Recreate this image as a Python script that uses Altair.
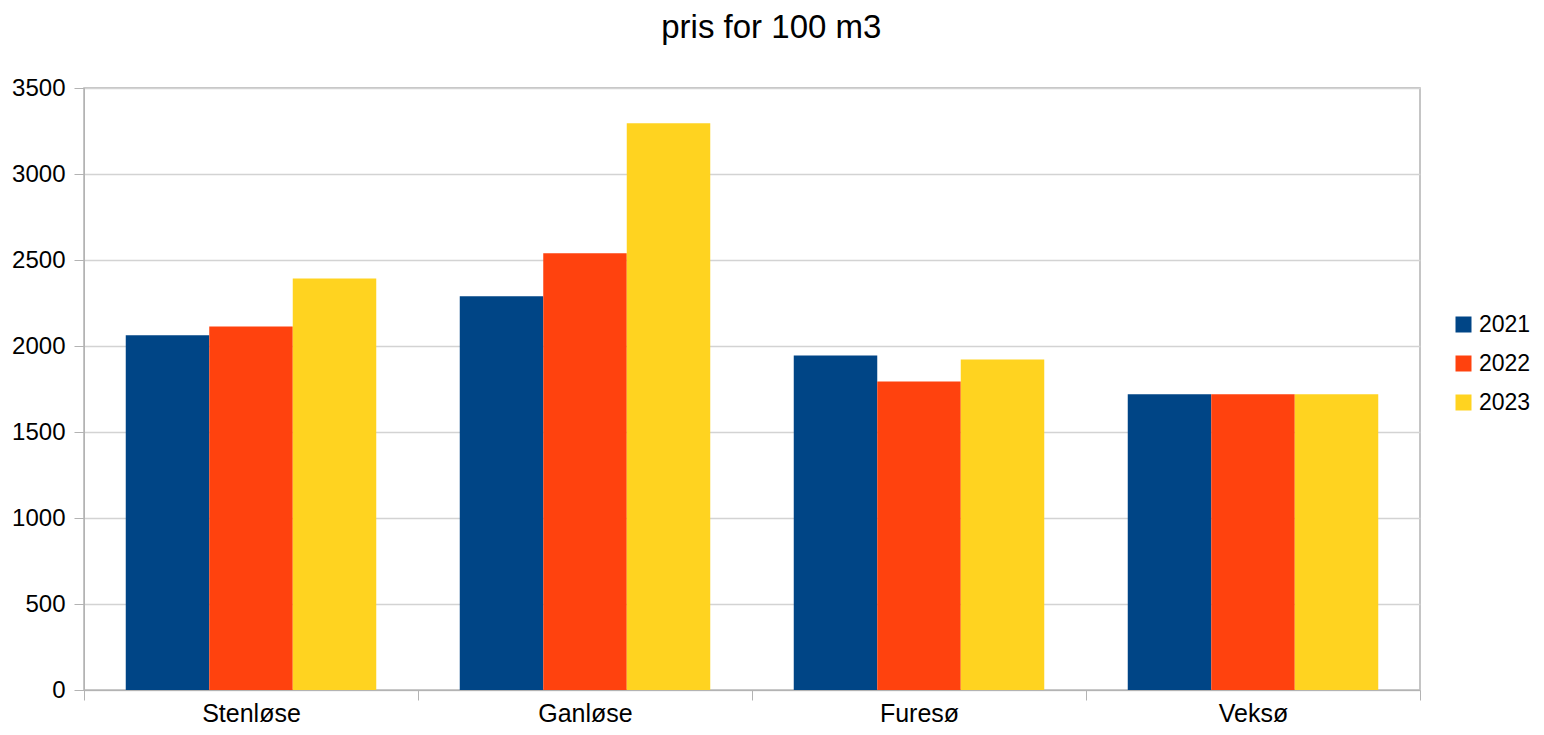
import altair as alt
import pandas as pd

categories = ["Stenløse", "Ganløse", "Furesø", "Veksø"]
years = ["2021", "2022", "2023"]
v2021 = [2062, 2289, 1945, 1719]
v2022 = [2114, 2539, 1794, 1719]
v2023 = [2393, 3295, 1922, 1719]
colors = ["#004586", "#ff420e", "#ffd320"]

rows = []
for yr, vals in zip(years, [v2021, v2022, v2023]):
    for c, v in zip(categories, vals):
        rows.append({"sted": c, "år": yr, "pris": v})
df = pd.DataFrame(rows)

FONT = "Liberation Sans"

chart = alt.Chart(df).mark_bar().encode(
    x=alt.X("sted:N", sort=categories, title=None,
            scale=alt.Scale(paddingInner=0, paddingOuter=0),
            axis=alt.Axis(labelAngle=0, tickBand="extent", tickSize=10,
                          labelPadding=1, labelFontSize=25, labelFont=FONT,
                          labelColor="#000000", domainColor="#b3b3b3",
                          tickColor="#b3b3b3", grid=False)),
    xOffset=alt.XOffset("år:N", sort=years,
                        scale=alt.Scale(paddingInner=0, paddingOuter=0.5)),
    y=alt.Y("pris:Q", title=None,
            scale=alt.Scale(domain=[0, 3500], nice=False),
            axis=alt.Axis(values=[0, 500, 1000, 1500, 2000, 2500, 3000, 3500],
                          format="d",
                          tickSize=10, labelPadding=9, labelFontSize=24,
                          labelFont=FONT, labelColor="#000000",
                          domainColor="#b3b3b3", tickColor="#b3b3b3",
                          gridColor="#d3d3d3", gridWidth=1.5)),
    color=alt.Color("år:N", sort=years, title=None,
                    scale=alt.Scale(domain=years, range=colors),
                    legend=alt.Legend(orient="none", legendX=1368, legendY=225,
                                      symbolType="square", symbolSize=256,
                                      symbolStrokeWidth=0, labelFontSize=23,
                                      labelFont=FONT, labelColor="#000000",
                                      rowPadding=15, labelOffset=4, padding=0)),
).properties(
    width=1336,
    height=602,
    title=alt.TitleParams("pris for 100 m3", fontSize=33, font=FONT,
                          fontWeight="normal", color="#000000",
                          anchor="middle", frame="bounds", offset=5,
                          baseline="alphabetic"),
    autosize=alt.AutoSizeParams(type="none"),
    padding={"left": 76, "top": 80, "right": 114, "bottom": 36},
).configure_view(stroke="#b3b3b3", strokeWidth=1.5)

chart.save("out.html", embed_options={"renderer": "svg", "actions": False})
